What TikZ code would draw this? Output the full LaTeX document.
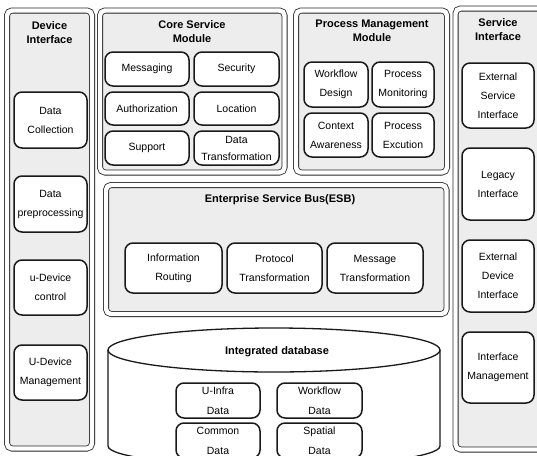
\documentclass[tikz,border=0pt]{standalone}
\usepackage{fontspec}
\setmainfont{Liberation Sans}
\begin{document}
\begin{tikzpicture}[x=1pt,y=-1pt,
  panel/.style={draw=black!85, line width=0.8pt, double=white, double distance=4.4pt,
    rounded corners=5pt, fill=black!7, inner sep=0pt},
  box/.style={draw=black!90, line width=1.5pt, rounded corners=8pt, fill=white,
    align=center, inner sep=0pt, font=\fontsize{10.5}{19}\selectfont},
  ttl/.style={align=center, inner sep=0pt, font=\bfseries\fontsize{11}{14}\selectfont},
  dbline/.style={draw=black!90, line width=1.3pt}]

\useasboundingbox (0,0) rectangle (537,455);
\clip (0,0) rectangle (537,455);
\fill[white] (0,0) rectangle (537,455);

% ---- panels ----
\node[panel, minimum width=85pt,    minimum height=438pt] (devp)  at (49.5,229.5) {};
\node[panel, minimum width=184.5pt, minimum height=162pt] (corep) at (192.25,91.5) {};
\node[panel, minimum width=151pt,   minimum height=162pt] (procp) at (371.5,91.5) {};
\node[panel, minimum width=114.5pt, minimum height=441pt] (servp) at (512.75,229) {};
\node[panel, minimum width=340.5pt, minimum height=129pt] (esbp)  at (276.25,249.5) {};

% ---- panel titles ----
\node[ttl] (devt)  at (49.5,33)  {Device\\Interface};
\node[ttl] (coret) at (192,32)   {Core Service\\Module};
\node[ttl] (proct) at (372,31)   {Process Management\\Module};
\node[ttl] (servt) at (498,30)   {Service\\Interface};
\node[ttl] (esbt)  at (280,200)  {Enterprise Service Bus(ESB)};

% ---- device interface ----
\node[box, minimum width=73pt, minimum height=56pt] (dcol)  at (50.5,120)   {Data\\Collection};
\node[box, minimum width=73pt, minimum height=56pt] (dpre)  at (50.5,204)   {Data\\preprocessing};
\node[box, minimum width=73pt, minimum height=55pt] (dctl)  at (50.5,287.5) {u-Device\\control};
\node[box, minimum width=73pt, minimum height=55pt] (dmgmt) at (50.5,372.5) {U-Device\\Management};

% ---- core service module ----
\node[box, minimum width=84pt, minimum height=34pt] (msg)  at (147,69)     {Messaging};
\node[box, minimum width=85pt, minimum height=34pt] (sec)  at (236.5,69)   {Security};
\node[box, minimum width=84pt, minimum height=33pt] (auth) at (147,108.5)  {Authorization};
\node[box, minimum width=85pt, minimum height=33pt] (loc)  at (236.5,108.5) {Location};
\node[box, minimum width=84pt, minimum height=34pt] (sup)  at (147,148)    {Support};
\node[box, minimum width=85pt, minimum height=34pt, font=\fontsize{10.5}{17}\selectfont] (dtr) at (236.5,148) {Data\\Transformation};

% ---- process management module ----
\node[box, minimum width=64pt, minimum height=45pt] (wfd)  at (336,84.5) {Workflow\\Design};
\node[box, minimum width=62pt, minimum height=45pt] (pmon) at (403,84.5) {Process\\Monitoring};
\node[box, minimum width=64pt, minimum height=44pt] (ctx)  at (336,135)  {Context\\Awareness};
\node[box, minimum width=62pt, minimum height=44pt] (pexe) at (403,135)  {Process\\Excution};

% ---- service interface ----
\node[box, minimum width=72pt, minimum height=65pt] (esi)  at (498,95.5) {External\\Service\\Interface};
\node[box, minimum width=72pt, minimum height=72pt] (leg)  at (498,184)  {Legacy\\Interface};
\node[box, minimum width=72pt, minimum height=72pt] (edi)  at (498,276)  {External\\Device\\Interface};
\node[box, minimum width=72pt, minimum height=71pt] (imgm) at (498,367.5) {Interface\\Management};

% ---- ESB ----
\node[box, minimum width=97pt, minimum height=50pt] (ir) at (173.5,268) {Information\\Routing};
\node[box, minimum width=95pt, minimum height=50pt] (pt) at (274.5,268) {Protocol\\Transformation};
\node[box, minimum width=96pt, minimum height=50pt] (mt) at (375,268)   {Message\\Transformation};

% ---- integrated database (cylinder) ----
\path[dbline, fill=white] (108,350) -- (108,446)
  arc[start angle=180, end angle=0, x radius=166, y radius=20] -- (440,350)
  arc[start angle=0, end angle=-180, x radius=166, y radius=22] -- cycle;
\draw[dbline] (108,350) arc[start angle=180, end angle=0, x radius=166, y radius=22];
\node[ttl] (db) at (277,352) {Integrated database};

\node[box, minimum width=84pt, minimum height=35pt, font=\fontsize{10.5}{20}\selectfont] (uinf) at (218,400.5)   {U-Infra\\Data};
\node[box, minimum width=85pt, minimum height=35pt, font=\fontsize{10.5}{20}\selectfont] (wfdt) at (319.5,400.5) {Workflow\\Data};
\node[box, minimum width=84pt, minimum height=35pt, font=\fontsize{10.5}{20}\selectfont] (cmd)  at (218,440.5)   {Common\\Data};
\node[box, minimum width=85pt, minimum height=35pt, font=\fontsize{10.5}{20}\selectfont] (spd)  at (319.5,440.5) {Spatial\\Data};

\end{tikzpicture}
\end{document}
